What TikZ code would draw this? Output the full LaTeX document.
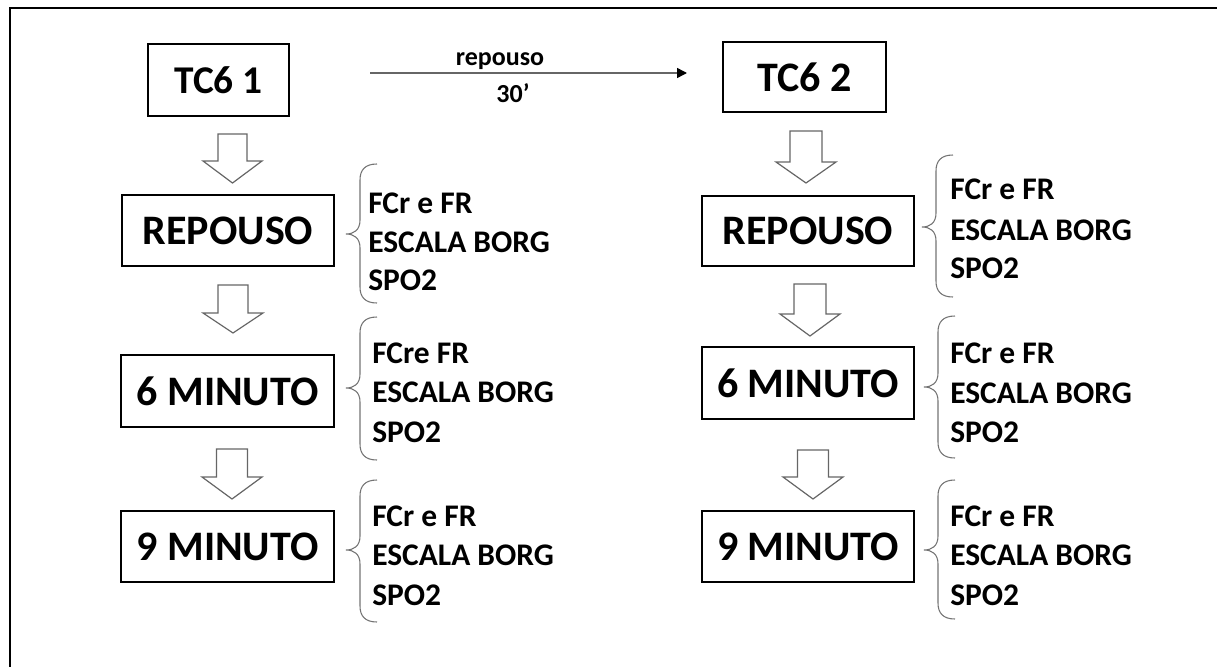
\documentclass[tikz,border=0pt]{standalone}
\usepackage{fontspec}
\setmainfont{Carlito}
\usetikzlibrary{arrows.meta}
\newcommand\blkarrow[6]{%
  \draw[blk] (#1-#2,#4) -- (#1+#2,#4) -- (#1+#2,#5) -- (#1+#3,#5) -- (#1,#6) -- (#1-#3,#5) -- (#1-#2,#5) -- cycle;}
\newcommand\mybrace[4]{%
  \draw[brc] (#1+31,#3) .. controls (#1+19,#3) and (#1+14,#3+6) .. (#1+14,#3+16)
    -- (#1+14,#2-14) .. controls (#1+14,#2-4) and (#1+8,#2) .. (#1,#2)
    .. controls (#1+8,#2) and (#1+14,#2+4) .. (#1+14,#2+14)
    -- (#1+14,#4-16) .. controls (#1+14,#4-6) and (#1+19,#4) .. (#1+31,#4);}
\begin{document}
\begin{tikzpicture}[x=0.75pt,y=-0.75pt,
  box/.style={draw=black, line width=0.9pt, inner sep=0pt, font=\fontsize{31.5}{36}\selectfont\bfseries},
  thickbox/.style={box, line width=1.7pt},
  info/.style={anchor=base west, inner sep=0pt, font=\fontsize{23.6}{28}\selectfont\bfseries},
  small/.style={anchor=base, inner sep=0pt, font=\fontsize{19.5}{22}\selectfont\bfseries},
  blk/.style={draw=black!60, line width=0.9pt, fill=white},
  brc/.style={draw=black!55, line width=0.8pt},
  wh/.style 2 args={minimum width=#1*0.75pt, minimum height=#2*0.75pt},
]
\useasboundingbox (0,0) rectangle (1217,667);
\draw[line width=1.5pt] (9.5,700) -- (9.5,8) -- (1240,8);

% boxes
\node[thickbox, wh={141}{72}, font=\fontsize{29.5}{34}\selectfont\bfseries] (t1) at (218.5,80) {TC6 1};
\node[box, line width=1.1pt, wh={163}{70}] (t2) at (804.5,77) {TC6 2};
\node[box, wh={212}{71}] (r1) at (228,230.5) {REPOUSO};
\node[thickbox, wh={213}{72}] (m1) at (227.5,391) {6 MINUTO};
\node[box, wh={213}{71}] (n1) at (227.5,546.5) {9 MINUTO};
\node[box, wh={212}{70}] (r2) at (808,231) {REPOUSO};
\node[thickbox, wh={212}{72}] (m2) at (808,383) {6 MINUTO};
\node[box, wh={212}{71}] (n2) at (808,546.5) {9 MINUTO};

% rest arrow
\coordinate (ra) at (370,73);
\coordinate (rb) at (687,73);
\draw[black!60, line width=1.1pt, -{Triangle[length=7.5pt,width=7.5pt,black]}] (ra) -- (rb);
\node[small] (lrep) at (500,66) {repouso};
\node[small] (l30) at (513,103) {30’};

% block arrows
\blkarrow{232.5}{14.5}{29.5}{134}{161}{183}
\blkarrow{233}{15}{30}{285}{313}{333}
\blkarrow{232}{15.5}{30}{449}{477}{499}
\blkarrow{806}{16}{30}{131}{162}{183}
\blkarrow{810}{16}{30}{284}{314}{336}
\blkarrow{813}{15.5}{30}{450}{477}{499}

% braces
\mybrace{346}{234}{164}{303}
\mybrace{346}{388}{317}{460}
\mybrace{346}{550}{480}{622}
\mybrace{922}{227}{155}{297}
\mybrace{924}{387}{316}{458}
\mybrace{924}{550}{480}{619}

% info texts
\node[info] (a1) at (368,213) {FCr e FR};
\node[info] (a2) at (368,252) {ESCALA BORG};
\node[info] (a3) at (368,290) {SPO2};
\node[info] (b1) at (372,363) {FCre FR};
\node[info] (b2) at (372,402) {ESCALA BORG};
\node[info] (b3) at (372,442) {SPO2};
\node[info] (c1) at (372,526) {FCr e FR};
\node[info] (c2) at (372,565) {ESCALA BORG};
\node[info] (c3) at (372,605) {SPO2};
\node[info] (d1) at (950,199) {FCr e FR};
\node[info] (d2) at (950,240) {ESCALA BORG};
\node[info] (d3) at (950,278) {SPO2};
\node[info] (e1) at (950,363) {FCr e FR};
\node[info] (e2) at (950,403) {ESCALA BORG};
\node[info] (e3) at (950,442) {SPO2};
\node[info] (f1) at (950,526) {FCr e FR};
\node[info] (f2) at (950,565) {ESCALA BORG};
\node[info] (f3) at (950,605) {SPO2};
\end{tikzpicture}
\end{document}
